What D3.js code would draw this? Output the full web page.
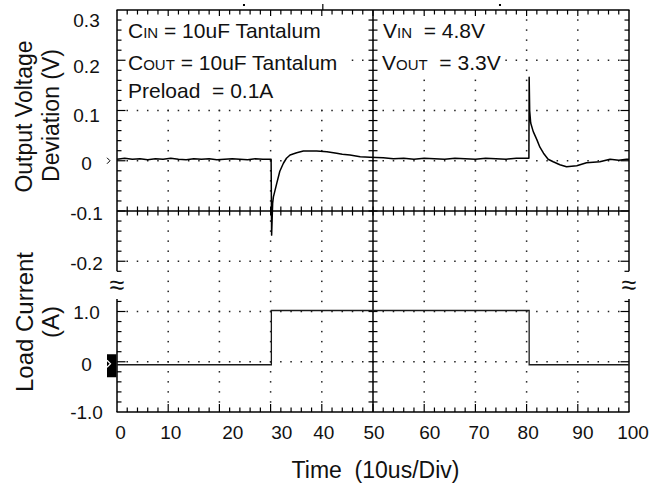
<!DOCTYPE html>
<html><head><meta charset="utf-8">
<script src="https://cdn.jsdelivr.net/npm/d3@7"></script>
<style>
body{margin:0;background:#fff}
svg{display:block}
text{font-family:"Liberation Sans",Arial,Helvetica,sans-serif;fill:#111}
</style>
</head><body>
<svg id="c" width="669" height="494"></svg>
<script>
// ---------- data ----------
const xTickLabels = ["0","10","20","30","40","50","60","70","80","90","100"];
const xTickLabelPos = [0.7,10.5,22.6,32.2,40.4,50.2,61.1,70.7,80.3,91,100.8];
const voltTickLabels = ["0.3","0.2","0.1","0","-0.1","-0.2"];
const voltTickLabelPos = [0.28,0.188,0.0915,-0.005,-0.104,-0.203];
const currTickLabels = ["1.0","0","-1.0"];
const currTickLabelPos = [0.985,-0.04,-0.995];

const voltTime  = [0,1.5,3,4.5,6,7.5,9,10.5,12,13.5,15,16.5,18,19.5,21,22.5,24,25.5,27,28.5,30.1,30.2,30.4,30.55,31.2,31.8,32.5,33.1,33.8,35.1,36.4,39,41,42.9,44,45.5,47.5,49.4,52,54,56,58,60,62,64,66,68,70,72,74,76,78,80.45,80.5,80.6,80.8,81.3,82,82.6,83.3,84.2,85.2,86.5,87.8,89.8,91.7,94.3,96.3,98,99.5,100];
const voltValue = [0.003,0.005,0.003,0.004,0.002,0.004,0.003,0.005,0.003,0.002,0.004,0.003,0.004,0.002,0.003,0.004,0.003,0.002,0.004,0.003,0.003,-0.148,-0.085,-0.072,-0.045,-0.021,-0.005,0.005,0.0115,0.016,0.0195,0.0195,0.018,0.015,0.013,0.0115,0.008,0.007,0.006,0.004,0.005,0.003,0.005,0.004,0.003,0.005,0.004,0.003,0.005,0.004,0.003,0.005,0.005,0.166,0.1,0.075,0.058,0.042,0.027,0.015,0.003,-0.002,-0.008,-0.012,-0.01,-0.004,-0.002,0.003,0.001,0.003,0.003];

const currTime  = [0,30.15,30.15,80.5,80.5,100];
const currValue = [-0.06,-0.06,1.02,1.02,-0.06,-0.06];

const topMarkTime = [24.8,74.8];
const topTickTime = [40.2];

// ---------- layout ----------
const L=117, R=629, T=10, B=412;
const svg = d3.select("#c");
const x  = d3.scaleLinear().domain([0,100]).range([L,R]);
const yV = d3.scaleLinear().domain([-0.1,0.3]).range([211,T]);
const yI = d3.scaleLinear().domain([-1,1]).range([B,311.5]);
const gy = d3.scaleLinear().domain([0,8]).range([T,B]); // screen divisions
const breakRows=[5.2,5.75];

const minorT = d3.range(2,100,2);
const minorR = d3.range(0.2,8,0.2).map(v=>+v.toFixed(1));
const isMajT = t => Math.abs(t/10-Math.round(t/10))<1e-6;
const isMajR = r => Math.abs(r-Math.round(r))<1e-6;
const inBreak = r => r>breakRows[0] && r<breakRows[1];

// annotation backgrounds
svg.append("rect").attr("x",121).attr("y",12).attr("width",226).attr("height",92).attr("fill","#fff");
svg.append("rect").attr("x",378).attr("y",12).attr("width",128).attr("height",64).attr("fill","#fff");

// dotted grid
const dotG = svg.append("g").attr("fill","#222");
const vLines=[10,20,30,40,60,70,80,90];
const hRows=[1,2,3,5,6,7];
const dots=[];
vLines.forEach(t=>{ d3.range(1,40).forEach(k=>dots.push([x(t),gy(k/5)])); });
hRows.forEach(r=>{ d3.range(1,50).forEach(k=>dots.push([x(k*2),gy(r)])); });
const boxes=[[121,12,347,104],[378,12,506,76]];
dotG.selectAll("rect").data(dots.filter(d=>!boxes.some(b=>d[0]>=b[0]&&d[0]<=b[2]&&d[1]>=b[1]&&d[1]<=b[3])))
  .join("rect").attr("x",d=>d[0]-0.75).attr("y",d=>d[1]-0.75).attr("width",1.5).attr("height",1.5);

// frame
const line = (x1,y1,x2,y2,w=1.5)=>svg.append("line").attr("x1",x1).attr("y1",y1).attr("x2",x2).attr("y2",y2).attr("stroke","#000").attr("stroke-width",w);
line(L-0.5,T,R+0.5,T);
line(L-0.5,B,R+0.5,B);
line(L,T,L,gy(breakRows[0])); line(L,gy(breakRows[1]),L,B);
line(R,T,R,gy(breakRows[0])); line(R,gy(breakRows[1]),R,B);
line(L,gy(4),R,gy(4));
line(x(50),T,x(50),B);

// ticks
const tg = svg.append("g").attr("stroke","#000").attr("stroke-width",1.2);
function ticks(data,fn){ tg.append("g").selectAll("line").data(data).join("line").each(function(d){const c=fn(d);d3.select(this).attr("x1",c[0]).attr("y1",c[1]).attr("x2",c[2]).attr("y2",c[3]);}); }
ticks(minorT,t=>[x(t),T,x(t),T+(isMajT(t)?6:4.5)]);
ticks(minorT,t=>[x(t),B,x(t),B-(isMajT(t)?8:4.5)]);
ticks(minorR.filter(r=>!inBreak(r)),r=>[L,gy(r),L+(isMajR(r)?8.5:4.5),gy(r)]);
ticks(minorR.filter(r=>!inBreak(r)),r=>[R,gy(r),R-(isMajR(r)?8.5:4.5),gy(r)]);
ticks(minorT,t=>[x(t),gy(4)-4.5,x(t),gy(4)+4.5]);
ticks(minorR,r=>[x(50)-4.5,gy(r),x(50)+4.5,gy(r)]);
ticks(topTickTime,t=>[x(t),T-6,x(t),T]);
svg.append("g").selectAll("rect").data(topMarkTime).join("rect")
  .attr("x",t=>x(t)-1).attr("y",4).attr("width",2).attr("height",2).attr("fill","#000");

// break symbols
svg.append("g").selectAll("text").data([L,R]).join("text")
  .attr("x",d=>d).attr("y",gy(5.5)+7.5).attr("text-anchor","middle")
  .attr("font-size",27).text("\u2248");

// traces
const vLine = d3.line().x((d,i)=>x(voltTime[i])).y((d,i)=>yV(voltValue[i]));
svg.append("path").attr("d",vLine(voltValue)).attr("fill","none").attr("stroke","#000").attr("stroke-width",1.5).attr("stroke-linejoin","round");
const iLine = d3.line().x((d,i)=>x(currTime[i])).y((d,i)=>yI(currValue[i]));
svg.append("path").attr("d",iLine(currValue)).attr("fill","none").attr("stroke","#1a1a1a").attr("stroke-width",1.3);

// channel markers
svg.append("path").attr("d",`M${L-10},${yV(0)-3}L${L-7},${yV(0)}L${L-10},${yV(0)+3}`).attr("fill","none").attr("stroke","#000").attr("stroke-width",1);
svg.append("rect").attr("x",L-10).attr("y",yI(0)-7.5).attr("width",9.5).attr("height",23).attr("fill","#000");
svg.append("path").attr("d",`M${L-10},${yI(0)-1.5}L${L-6.5},${yI(0)+2}L${L-10},${yI(0)+5.5}`).attr("fill","none").attr("stroke","#fff").attr("stroke-width",1.2);

// tick labels
const fs=19;
svg.append("g").selectAll("text").data(xTickLabels).join("text")
  .attr("x",(d,i)=>x(xTickLabelPos[i])).attr("y",439).attr("text-anchor","middle").attr("font-size",fs).text(d=>d);
svg.append("g").selectAll("text").data(voltTickLabels).join("text")
  .attr("x",86.5).attr("y",(d,i)=>yV(voltTickLabelPos[i])+6.8).attr("text-anchor","middle").attr("font-size",fs).text(d=>d);
svg.append("g").selectAll("text").data(currTickLabels).join("text")
  .attr("x",86.5).attr("y",(d,i)=>yI(currTickLabelPos[i])+6.8).attr("text-anchor","middle").attr("font-size",fs).text(d=>d);

// axis titles
function vtitle(str,xb,yc,size){ svg.append("text").attr("transform",`translate(${xb},${yc}) rotate(-90)`).attr("text-anchor","middle").attr("font-size",size).style("white-space","pre").text(str); }
vtitle("Output Voltage",31.5,116.5,23);
vtitle("Deviation (V)",58.5,115.5,23);
vtitle("Load Current",32.5,322,24);
vtitle("(A)",58.5,322,24);
svg.append("text").attr("x",375.5).attr("y",478).attr("text-anchor","middle").attr("font-size",23).style("white-space","pre").text("Time  (10us/Div)");

// annotations
function note(xp,yb,main,sub,rest){
  const t=svg.append("text").attr("x",xp).attr("y",yb).attr("font-size",21).style("white-space","pre");
  t.append("tspan").text(main);
  if(sub) t.append("tspan").attr("font-size",15).text(sub);
  t.append("tspan").text(rest);
}
note(128,38,"C","IN"," = 10uF Tantalum");
note(128,69.5,"C","OUT"," = 10uF Tantalum");
note(128,98,"Preload","","  = 0.1A");
note(383,38,"V","IN","  = 4.8V");
note(382,69.5,"V","OUT","  = 3.3V");
</script>
</body></html>
